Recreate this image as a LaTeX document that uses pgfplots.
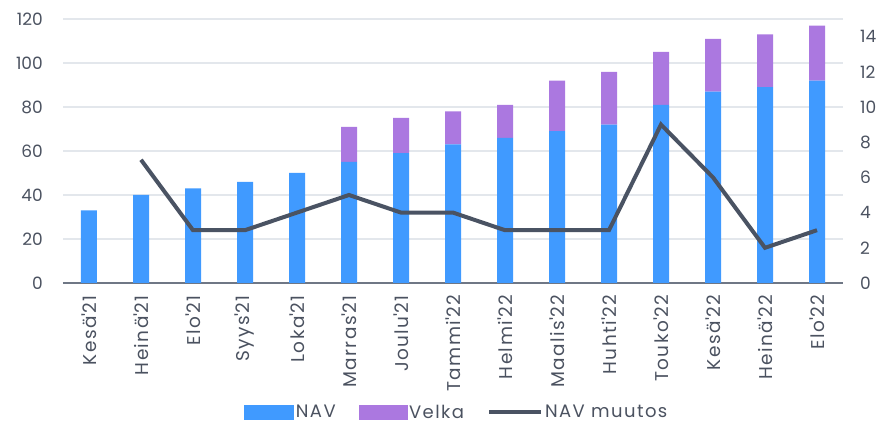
\documentclass[border=0pt]{standalone}
\usepackage{pgfplots}
\pgfplotsset{compat=1.18}
\usepackage{fontspec}
\setmainfont{Poppins}
\newfontfamily\spaced{Poppins}[LetterSpace=8]
\definecolor{navblue}{HTML}{409AFF}
\definecolor{velka}{HTML}{AB78E0}
\definecolor{navline}{HTML}{4A5363}
\definecolor{gridc}{HTML}{E3E7EC}
\definecolor{axc}{HTML}{6F7785}
\definecolor{txt}{HTML}{4B5260}
\newcommand\q{\textquotesingle}
\begin{document}
\begin{tikzpicture}
\path[use as bounding box] (0,0) rectangle (881pt,425pt);
\begin{axis}[
  at={(63pt,142pt)}, anchor=south west, scale only axis,
  width=780pt, height=264pt,
  ybar stacked, bar width=16pt,
  xmin=-0.5, xmax=14.5, ymin=0, ymax=120,
  ytick={0,20,...,120},
  xtick={0,...,14},
  xticklabels={Kes\"a\q21,Hein\"a\q21,Elo\q21,Syys\q21,Loka\q21,Marras\q21,Joulu\q21,Tammi\q22,Helmi\q22,Maalis\q22,Huhti\q22,Touko\q22,Kes\"a\q22,Hein\"a\q22,Elo\q22},
  axis x line*=bottom, axis y line*=left,
  y axis line style={draw=none},
  x axis line style={draw=axc, line width=1.2pt, -},
  major tick length=0pt,
  ymajorgrids, grid style={gridc, line width=1.2pt},
  tick label style={font=\fontsize{17}{20}\selectfont, text=txt, inner sep=0pt},
  yticklabel style={xshift=-20pt},
  xticklabel style={yshift=-12pt, rotate=90, anchor=east, font=\spaced\fontsize{18.5}{20}\selectfont},
  /pgf/number format/assume math mode=true,
]
\addplot[fill=navblue, draw=none] coordinates {(0,33) (1,40) (2,43) (3,46) (4,50) (5,55) (6,59) (7,63) (8,66) (9,69) (10,72) (11,81) (12,87) (13,89) (14,92)};
\addplot[fill=velka, draw=none] coordinates {(0,0) (1,0) (2,0) (3,0) (4,0) (5,16) (6,16) (7,15) (8,15) (9,23) (10,24) (11,24) (12,24) (13,24) (14,25)};
\end{axis}
\begin{axis}[
  at={(63pt,142pt)}, anchor=south west, scale only axis,
  width=780pt, height=264pt,
  xmin=-0.5, xmax=14.5, ymin=0, ymax=15,
  ytick={0,2,...,14},
  axis x line=none, axis y line*=right,
  y axis line style={draw=none},
  major tick length=0pt,
  tick label style={font=\fontsize{17}{20}\selectfont, text=txt, inner sep=0pt},
  yticklabel style={xshift=17pt},
  /pgf/number format/assume math mode=true,
  legend style={at={(0.505,-0.49)}, anchor=center, draw=none, fill=none,
    font=\spaced\fontsize{18}{20}\selectfont, text=txt, legend columns=3,
    /tikz/every even column/.append style={column sep=21pt}},
  legend cell align=left,
]
\addlegendimage{legend image code/.code={\fill[navblue] (0pt,-7pt) rectangle (49pt,7pt);}}
\addlegendentry{NAV}
\addlegendimage{legend image code/.code={\fill[velka] (0pt,-7pt) rectangle (48pt,7pt);}}
\addlegendentry{Velka}
\addlegendimage{legend image code/.code={\draw[navline, line width=4pt] (0pt,0pt) -- (52pt,0pt);}}
\addlegendentry{NAV muutos}
\addplot[navline, line width=4pt, mark=none, forget plot] coordinates {(1,7) (2,3) (3,3) (4,4) (5,5) (6,4) (7,4) (8,3) (9,3) (10,3) (11,9) (12,6) (13,2) (14,3)};
\end{axis}
\end{tikzpicture}
\end{document}
